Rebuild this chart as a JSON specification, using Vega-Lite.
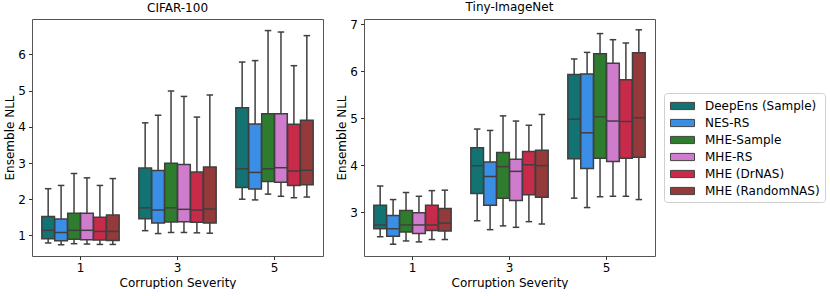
{
  "$schema": "https://vega.github.io/schema/vega-lite/v6.json",
  "padding": {"left": 3, "top": 0, "right": 0, "bottom": 0},
  "datasets": {
    "box": [
      {"d": "CIFAR-100", "s": "1", "m": "DeepEns (Sample)", "lo": 0.79, "q1": 0.91, "med": 1.14, "q3": 1.52, "hi": 2.29},
      {"d": "CIFAR-100", "s": "1", "m": "NES-RS", "lo": 0.74, "q1": 0.85, "med": 1.08, "q3": 1.45, "hi": 2.38},
      {"d": "CIFAR-100", "s": "1", "m": "MHE-Sample", "lo": 0.77, "q1": 0.89, "med": 1.14, "q3": 1.61, "hi": 2.71},
      {"d": "CIFAR-100", "s": "1", "m": "MHE-RS", "lo": 0.76, "q1": 0.88, "med": 1.14, "q3": 1.61, "hi": 2.59},
      {"d": "CIFAR-100", "s": "1", "m": "MHE (DrNAS)", "lo": 0.75, "q1": 0.87, "med": 1.11, "q3": 1.50, "hi": 2.38},
      {"d": "CIFAR-100", "s": "1", "m": "MHE (RandomNAS)", "lo": 0.75, "q1": 0.86, "med": 1.11, "q3": 1.56, "hi": 2.57},
      {"d": "CIFAR-100", "s": "3", "m": "DeepEns (Sample)", "lo": 1.13, "q1": 1.46, "med": 1.76, "q3": 2.86, "hi": 4.11},
      {"d": "CIFAR-100", "s": "3", "m": "NES-RS", "lo": 1.05, "q1": 1.34, "med": 1.70, "q3": 2.79, "hi": 4.32},
      {"d": "CIFAR-100", "s": "3", "m": "MHE-Sample", "lo": 1.08, "q1": 1.37, "med": 1.76, "q3": 2.99, "hi": 4.99},
      {"d": "CIFAR-100", "s": "3", "m": "MHE-RS", "lo": 1.08, "q1": 1.38, "med": 1.72, "q3": 2.96, "hi": 4.84},
      {"d": "CIFAR-100", "s": "3", "m": "MHE (DrNAS)", "lo": 1.07, "q1": 1.36, "med": 1.70, "q3": 2.75, "hi": 4.27},
      {"d": "CIFAR-100", "s": "3", "m": "MHE (RandomNAS)", "lo": 1.06, "q1": 1.34, "med": 1.73, "q3": 2.89, "hi": 4.88},
      {"d": "CIFAR-100", "s": "5", "m": "DeepEns (Sample)", "lo": 2.00, "q1": 2.32, "med": 2.84, "q3": 4.53, "hi": 5.79},
      {"d": "CIFAR-100", "s": "5", "m": "NES-RS", "lo": 1.98, "q1": 2.28, "med": 2.74, "q3": 4.08, "hi": 5.83},
      {"d": "CIFAR-100", "s": "5", "m": "MHE-Sample", "lo": 2.14, "q1": 2.49, "med": 2.84, "q3": 4.36, "hi": 6.66},
      {"d": "CIFAR-100", "s": "5", "m": "MHE-RS", "lo": 2.08, "q1": 2.47, "med": 2.87, "q3": 4.36, "hi": 6.62},
      {"d": "CIFAR-100", "s": "5", "m": "MHE (DrNAS)", "lo": 2.04, "q1": 2.38, "med": 2.78, "q3": 4.07, "hi": 5.69},
      {"d": "CIFAR-100", "s": "5", "m": "MHE (RandomNAS)", "lo": 2.06, "q1": 2.40, "med": 2.80, "q3": 4.18, "hi": 6.52},
      {"d": "Tiny-ImageNet", "s": "1", "m": "DeepEns (Sample)", "lo": 2.48, "q1": 2.65, "med": 2.73, "q3": 3.15, "hi": 3.56},
      {"d": "Tiny-ImageNet", "s": "1", "m": "NES-RS", "lo": 2.32, "q1": 2.49, "med": 2.65, "q3": 2.93, "hi": 3.27},
      {"d": "Tiny-ImageNet", "s": "1", "m": "MHE-Sample", "lo": 2.39, "q1": 2.58, "med": 2.73, "q3": 3.04, "hi": 3.42},
      {"d": "Tiny-ImageNet", "s": "1", "m": "MHE-RS", "lo": 2.37, "q1": 2.55, "med": 2.73, "q3": 2.99, "hi": 3.34},
      {"d": "Tiny-ImageNet", "s": "1", "m": "MHE (DrNAS)", "lo": 2.42, "q1": 2.61, "med": 2.73, "q3": 3.15, "hi": 3.46},
      {"d": "Tiny-ImageNet", "s": "1", "m": "MHE (RandomNAS)", "lo": 2.42, "q1": 2.60, "med": 2.77, "q3": 3.08, "hi": 3.47},
      {"d": "Tiny-ImageNet", "s": "3", "m": "DeepEns (Sample)", "lo": 2.82, "q1": 3.40, "med": 3.99, "q3": 4.37, "hi": 4.77},
      {"d": "Tiny-ImageNet", "s": "3", "m": "NES-RS", "lo": 2.63, "q1": 3.15, "med": 3.76, "q3": 4.07, "hi": 4.74},
      {"d": "Tiny-ImageNet", "s": "3", "m": "MHE-Sample", "lo": 2.71, "q1": 3.30, "med": 3.97, "q3": 4.27, "hi": 5.05},
      {"d": "Tiny-ImageNet", "s": "3", "m": "MHE-RS", "lo": 2.68, "q1": 3.25, "med": 3.87, "q3": 4.13, "hi": 4.94},
      {"d": "Tiny-ImageNet", "s": "3", "m": "MHE (DrNAS)", "lo": 2.80, "q1": 3.37, "med": 4.01, "q3": 4.29, "hi": 4.85},
      {"d": "Tiny-ImageNet", "s": "3", "m": "MHE (RandomNAS)", "lo": 2.75, "q1": 3.32, "med": 3.99, "q3": 4.32, "hi": 5.08},
      {"d": "Tiny-ImageNet", "s": "5", "m": "DeepEns (Sample)", "lo": 3.30, "q1": 4.14, "med": 4.98, "q3": 5.93, "hi": 6.26},
      {"d": "Tiny-ImageNet", "s": "5", "m": "NES-RS", "lo": 3.10, "q1": 3.93, "med": 4.69, "q3": 5.94, "hi": 6.40},
      {"d": "Tiny-ImageNet", "s": "5", "m": "MHE-Sample", "lo": 3.33, "q1": 4.15, "med": 5.03, "q3": 6.37, "hi": 6.80},
      {"d": "Tiny-ImageNet", "s": "5", "m": "MHE-RS", "lo": 3.34, "q1": 4.08, "med": 4.94, "q3": 6.17, "hi": 6.67},
      {"d": "Tiny-ImageNet", "s": "5", "m": "MHE (DrNAS)", "lo": 3.34, "q1": 4.15, "med": 4.93, "q3": 5.82, "hi": 6.60},
      {"d": "Tiny-ImageNet", "s": "5", "m": "MHE (RandomNAS)", "lo": 3.27, "q1": 4.17, "med": 5.01, "q3": 6.39, "hi": 6.88}
    ]
  },
  "data": {"name": "box"},
  "spacing": 11,
  "hconcat": [
    {
      "title": "CIFAR-100",
      "width": 291,
      "height": 237,
      "transform": [{"filter": "datum.d === 'CIFAR-100'"}],
      "encoding": {
        "x": {"field": "s", "type": "nominal", "title": "Corruption Severity", "scale": {"paddingInner": 0.2, "paddingOuter": 0.1}, "axis": {"labelAngle": 0}},
        "xOffset": {"field": "m", "type": "nominal", "sort": ["DeepEns (Sample)", "NES-RS", "MHE-Sample", "MHE-RS", "MHE (DrNAS)", "MHE (RandomNAS)"], "scale": {"paddingInner": 0.02, "paddingOuter": 0.01}}
      },
      "layer": [
        {"mark": {"type": "rule", "color": "#3f3f3f", "strokeWidth": 1.5},
         "encoding": {"y": {"field": "lo", "type": "quantitative", "title": "Ensemble NLL", "scale": {"domain": [0.43, 6.98], "nice": false, "zero": false}, "axis": {"values": [1, 2, 3, 4, 5, 6]}}, "y2": {"field": "hi"}}},
        {"mark": {"type": "bar", "stroke": "#3f3f3f", "strokeWidth": 1.5, "opacity": 1},
         "encoding": {"y": {"field": "q1", "type": "quantitative"}, "y2": {"field": "q3"},
           "color": {"field": "m", "type": "nominal", "sort": ["DeepEns (Sample)", "NES-RS", "MHE-Sample", "MHE-RS", "MHE (DrNAS)", "MHE (RandomNAS)"],
             "scale": {"domain": ["DeepEns (Sample)", "NES-RS", "MHE-Sample", "MHE-RS", "MHE (DrNAS)", "MHE (RandomNAS)"], "range": ["#137373", "#3a8ee6", "#2e7d2e", "#d07ccd", "#c82a4a", "#953a3a"]},
             "legend": {"title": null, "orient": "none", "legendX": 632, "legendY": 74}}}},
        {"mark": {"type": "tick", "color": "#3f3f3f", "thickness": 1.5, "size": 12.6, "opacity": 1},
         "encoding": {"y": {"field": "med", "type": "quantitative"}}},
        {"mark": {"type": "tick", "color": "#3f3f3f", "thickness": 1.5, "size": 6.5, "opacity": 1},
         "encoding": {"y": {"field": "lo", "type": "quantitative"}}},
        {"mark": {"type": "tick", "color": "#3f3f3f", "thickness": 1.5, "size": 6.5, "opacity": 1},
         "encoding": {"y": {"field": "hi", "type": "quantitative"}}}
      ]
    },
    {
      "title": "Tiny-ImageNet",
      "width": 291,
      "height": 237,
      "transform": [{"filter": "datum.d === 'Tiny-ImageNet'"}],
      "encoding": {
        "x": {"field": "s", "type": "nominal", "title": "Corruption Severity", "scale": {"paddingInner": 0.2, "paddingOuter": 0.1}, "axis": {"labelAngle": 0}},
        "xOffset": {"field": "m", "type": "nominal", "sort": ["DeepEns (Sample)", "NES-RS", "MHE-Sample", "MHE-RS", "MHE (DrNAS)", "MHE (RandomNAS)"], "scale": {"paddingInner": 0.02, "paddingOuter": 0.01}}
      },
      "layer": [
        {"mark": {"type": "rule", "color": "#3f3f3f", "strokeWidth": 1.5},
         "encoding": {"y": {"field": "lo", "type": "quantitative", "title": "Ensemble NLL", "scale": {"domain": [2.07, 7.11], "nice": false, "zero": false}, "axis": {"values": [3, 4, 5, 6, 7]}}, "y2": {"field": "hi"}}},
        {"mark": {"type": "bar", "stroke": "#3f3f3f", "strokeWidth": 1.5, "opacity": 1},
         "encoding": {"y": {"field": "q1", "type": "quantitative"}, "y2": {"field": "q3"},
           "color": {"field": "m", "type": "nominal", "sort": ["DeepEns (Sample)", "NES-RS", "MHE-Sample", "MHE-RS", "MHE (DrNAS)", "MHE (RandomNAS)"],
             "scale": {"domain": ["DeepEns (Sample)", "NES-RS", "MHE-Sample", "MHE-RS", "MHE (DrNAS)", "MHE (RandomNAS)"], "range": ["#137373", "#3a8ee6", "#2e7d2e", "#d07ccd", "#c82a4a", "#953a3a"]},
             "legend": {"title": null, "orient": "none", "legendX": 632, "legendY": 74}}}},
        {"mark": {"type": "tick", "color": "#3f3f3f", "thickness": 1.5, "size": 12.6, "opacity": 1},
         "encoding": {"y": {"field": "med", "type": "quantitative"}}},
        {"mark": {"type": "tick", "color": "#3f3f3f", "thickness": 1.5, "size": 6.5, "opacity": 1},
         "encoding": {"y": {"field": "lo", "type": "quantitative"}}},
        {"mark": {"type": "tick", "color": "#3f3f3f", "thickness": 1.5, "size": 6.5, "opacity": 1},
         "encoding": {"y": {"field": "hi", "type": "quantitative"}}}
      ]
    }
  ],
  "resolve": {"scale": {"color": "shared", "y": "independent"}},
  "config": {
    "font": "DejaVu Sans",
    "view": {"stroke": "#555555", "strokeWidth": 1},
    "axis": {"domain": false, "grid": false, "tickColor": "#333333", "tickSize": 3.5, "tickWidth": 1, "labelFontSize": 12, "labelColor": "#000000", "titleFontSize": 12, "titleFontWeight": "normal", "titleColor": "#000000", "labelPadding": 3, "labelFont": "DejaVu Sans", "titleFont": "DejaVu Sans"},
    "axisY": {"titlePadding": 1},
    "axisX": {"titlePadding": 4},
    "title": {"fontSize": 12, "fontWeight": "normal", "font": "DejaVu Sans", "offset": 4, "color": "#000000"},
    "legend": {"symbolType": "M-0.867,-0.48H2.333V0.48H-0.867Z", "symbolSize": 225, "symbolStrokeColor": "#444444", "symbolStrokeWidth": 1, "symbolOpacity": 1, "labelFontSize": 12, "labelFont": "DejaVu Sans", "labelColor": "#000000", "labelOffset": 20, "rowPadding": 3, "padding": 5, "strokeColor": "#d0d0d0", "cornerRadius": 3, "fillColor": "#ffffff", "labelLimit": 300}
  }
}
